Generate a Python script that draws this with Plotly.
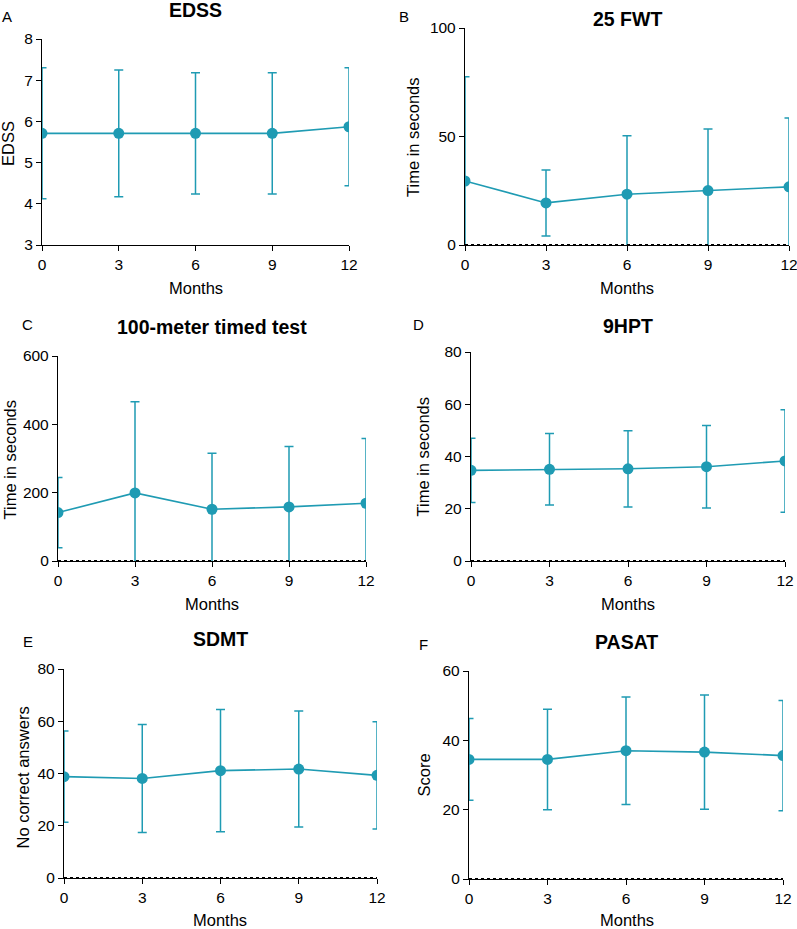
import plotly.graph_objects as go

W, H = 797, 929
COLOR = "#1f9bb3"

months = [0, 3, 6, 9, 12]

edss_mean = [5.71, 5.71, 5.71, 5.71, 5.87]
edss_sd = [1.59, 1.54, 1.47, 1.47, 1.43]

fwt_mean = [29.5, 19.4, 23.4, 25.1, 26.8]
fwt_sd = [48.0, 15.2, 26.9, 28.3, 31.7]

m100_mean = [141.7, 199.3, 151.5, 158.3, 169.0]
m100_sd = [102.6, 266.8, 164.0, 177.0, 189.6]

hpt_mean = [34.7, 35.1, 35.3, 36.1, 38.3]
hpt_sd = [12.3, 13.7, 14.6, 15.8, 19.6]

sdmt_mean = [38.8, 38.1, 41.1, 41.7, 39.3]
sdmt_sd = [17.5, 20.7, 23.4, 22.2, 20.5]

pasat_mean = [34.5, 34.5, 37.0, 36.6, 35.6]
pasat_sd = [11.8, 14.5, 15.5, 16.5, 15.9]

titles = ["EDSS", "25 FWT", "100-meter timed test", "9HPT", "SDMT", "PASAT"]
letters = ["A", "B", "C", "D", "E", "F"]
ytitles = ["EDSS", "Time in seconds", "Time in seconds", "Time in seconds",
           "No correct answers", "Score"]
yranges = [[3, 8], [0, 100], [0, 600], [0, 80], [0, 80], [0, 60]]
ydticks = [1, 50, 200, 20, 20, 20]
means = [edss_mean, fwt_mean, m100_mean, hpt_mean, sdmt_mean, pasat_mean]
sds = [edss_sd, fwt_sd, m100_sd, hpt_sd, sdmt_sd, pasat_sd]

# pixel boxes: (left, right, top, bottom)
boxes = [
    (42, 349, 39, 245),
    (465, 789, 28, 245),
    (58, 366, 356, 561),
    (471, 785, 352, 561),
    (64, 377, 669, 878),
    (469, 783, 671, 879),
]
title_pos = [(195.5, 10), (627, 19), (212, 326.5), (628, 325.5), (220.5, 639), (626.5, 641.5)]
letter_pos = [(6.7, 16.5), (404, 17), (27.5, 324.5), (418.5, 324.5), (28, 641), (423, 644)]
ytitle_pos = [(8.5, 143.5), (412.5, 137.5), (9.5, 460), (422.5, 457), (22, 777.5), (423, 775.5)]
xtitle_pos = [(195.5, 288), (627, 288), (212, 604), (628, 604), (220.5, 920), (626.5, 920)]

def px(x):
    return x / W

def py(y):
    return 1 - y / H

fig = go.Figure()
annotations = []
shapes = []
layout = {}
FONT = "Liberation Sans, Arial, sans-serif"

for i in range(6):
    n = "" if i == 0 else str(i + 1)
    xa, ya = "x" + n, "y" + n
    l, r, t, b = boxes[i]
    fig.add_trace(go.Scatter(
        x=months, y=means[i], xaxis=xa, yaxis=ya, mode="lines+markers",
        line=dict(color=COLOR, width=1.6),
        marker=dict(color=COLOR, size=11),
        error_y=dict(type="data", array=sds[i], visible=True, color=COLOR,
                     thickness=1.5, width=4.5),
        showlegend=False, cliponaxis=True, hoverinfo="skip",
    ))
    layout["xaxis" + n] = dict(
        domain=[px(l), px(r)], anchor=ya, range=[0, 12], tickvals=months,
        ticks="outside", ticklen=5, tickwidth=1.2, tickcolor="black",
        showline=True, linecolor="black", linewidth=1.3, showgrid=False,
        zeroline=False, automargin=False, ticklabeloverflow="allow",
        tickfont=dict(size=15.5, color="black", family=FONT),
    )
    layout["yaxis" + n] = dict(
        domain=[py(b), py(t)], anchor=xa, range=yranges[i], dtick=ydticks[i],
        tick0=yranges[i][0],
        ticks="outside", ticklen=5, tickwidth=1.2, tickcolor="black",
        showline=True, linecolor="black", linewidth=1.3, showgrid=False,
        zeroline=False, automargin=False, ticklabeloverflow="allow",
        tickfont=dict(size=15.5, color="black", family=FONT),
    )
    if i > 0:
        shapes.append(dict(type="line", xref=xa, yref=ya, x0=0, x1=12, y0=0, y1=0,
                           line=dict(color="black", width=2, dash="dot"), layer="above"))
    annotations.append(dict(text="<b>" + titles[i] + "</b>", x=px(title_pos[i][0]),
                            y=py(title_pos[i][1]), xref="paper", yref="paper",
                            showarrow=False, xanchor="center", yanchor="middle",
                            font=dict(size=19.5, color="black", family=FONT)))
    annotations.append(dict(text=letters[i], x=px(letter_pos[i][0]),
                            y=py(letter_pos[i][1]), xref="paper", yref="paper",
                            showarrow=False, xanchor="center", yanchor="middle",
                            font=dict(size=15, color="black", family=FONT)))
    annotations.append(dict(text=ytitles[i], x=px(ytitle_pos[i][0]),
                            y=py(ytitle_pos[i][1]), xref="paper", yref="paper",
                            showarrow=False, xanchor="center", yanchor="middle",
                            textangle=-90,
                            font=dict(size=16.5, color="black", family=FONT)))
    annotations.append(dict(text="Months", x=px(xtitle_pos[i][0]),
                            y=py(xtitle_pos[i][1]), xref="paper", yref="paper",
                            showarrow=False, xanchor="center", yanchor="middle",
                            font=dict(size=16.5, color="black", family=FONT)))

fig.update_layout(
    width=W, height=H, margin=dict(l=0, r=0, t=0, b=0, autoexpand=False),
    paper_bgcolor="white", plot_bgcolor="white",
    annotations=annotations, shapes=shapes,
    font=dict(family=FONT, color="black"),
    hovermode=False,
    **layout,
)

fig.write_html(
    "out.html",
    config={"displayModeBar": False},
    post_script="document.body.style.margin='0';document.body.style.padding='0';"
                "document.documentElement.style.overflow='hidden';",
)
